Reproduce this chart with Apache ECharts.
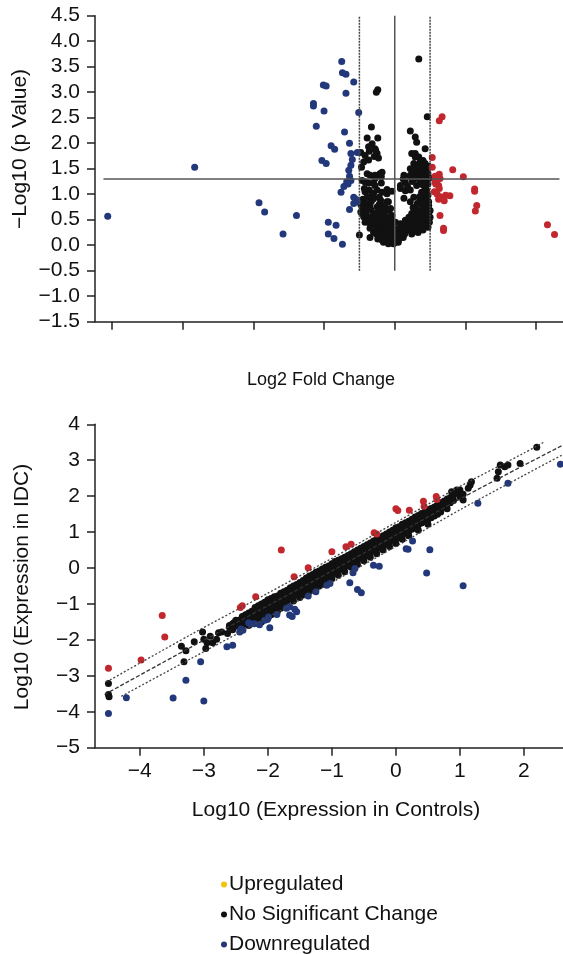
<!DOCTYPE html>
<html>
<head>
<meta charset="utf-8">
<script src="https://cdn.jsdelivr.net/npm/echarts@6/dist/echarts.min.js"></script>
<style>
html,body{margin:0;padding:0;background:#fff;}
#chart{width:563px;height:954px;}
</style>
</head>
<body>
<div id="chart"></div>
<script>
// ---------- Volcano plot (top) ----------
const volcanoYTicks = [-1.5,-1.0,-0.5,0.0,0.5,1.0,1.5,2.0,2.5,3.0,3.5,4.0,4.5];
const volcanoXTicks = [-4,-3,-2,-1,0,1,2];
const pThreshold = 1.3;
const fcThreshold = 0.5;

const volcanoUp = [
[0.67,2.52],[0.63,2.44],[0.53,1.72],[0.53,1.53],[0.82,1.48],[0.97,1.34],
[0.63,1.39],[0.57,1.35],[0.64,1.31],[0.57,1.24],[0.62,1.17],[0.63,1.11],
[1.13,1.10],[1.13,1.06],[0.60,1.00],[0.64,0.95],[0.72,0.98],[0.78,0.97],
[0.62,0.90],[0.70,0.87],[0.66,0.93],[0.56,1.05],[0.58,1.20],[0.60,1.28],
[1.16,0.78],[1.14,0.67],[0.64,0.58],[0.69,0.29],[0.69,0.33],[2.16,0.40],[2.26,0.21]
];
const volcanoDown = [
[-4.06,0.57],[-2.83,1.53],[-1.92,0.83],[-1.84,0.65],[-1.58,0.22],[-1.39,0.58],
[-1.15,2.78],[-1.15,2.73],[-1.11,2.33],[-1.01,3.14],[-0.97,3.12],[-1.00,2.63],
[-1.03,1.66],[-0.97,1.60],[-0.94,0.45],[-0.83,0.39],[-0.94,0.22],[-0.86,0.13],[-0.74,0.02],
[-0.90,1.95],[-0.85,1.88],[-0.75,3.60],[-0.74,3.38],[-0.69,3.35],[-0.69,2.98],[-0.58,3.20],[-0.51,2.60],
[-0.71,2.22],[-0.64,2.00],[-0.62,1.80],[-0.60,1.68],[-0.62,1.57],[-0.53,1.82],[-0.65,1.47],
[-0.64,1.35],[-0.62,1.27],[-0.68,1.24],[-0.72,1.15],[-0.76,1.04],[-0.66,1.20],
[-0.58,0.94],[-0.53,0.85],[-0.58,0.82],[-0.55,0.90],[-0.64,0.70]
];
const volcanoNS = [
[0.34,3.65],[-0.24,3.05],[-0.26,3.00],[0.46,2.52],[-0.33,2.32],[0.22,2.24],[0.29,2.12],[0.31,2.02],
[-0.39,2.10],[-0.24,2.10],[-0.32,1.99],[-0.28,1.89],[-0.37,1.93],[-0.36,1.84],[-0.25,1.80],[-0.29,1.74],[-0.27,1.86],
[-0.48,1.82],[-0.42,1.76],[-0.44,1.63],[-0.37,1.67],[-0.23,1.71],
[0.24,1.80],[0.29,1.73],[0.43,1.89],[0.29,1.80],[0.34,1.73],[0.40,1.66],[0.36,1.63],[0.43,1.60],[0.27,1.60],
[0.22,1.50],[0.31,1.50],[0.38,1.47],[0.45,1.44],[0.48,1.55],[0.42,1.52],
[-0.47,1.53],[-0.39,1.40],[-0.35,1.37],[-0.28,1.37],[-0.21,1.40],[-0.46,1.27],[-0.37,1.22],[-0.30,1.22],
[-0.19,1.22],[-0.18,1.43],[-0.19,1.34],[-0.28,1.31],[-0.42,1.24],[-0.28,1.17],
[-0.43,1.11],[-0.36,1.08],[-0.25,1.08],[-0.18,1.04],[-0.11,1.01],[-0.11,1.09],[-0.04,1.06],[0.08,1.11],
[0.13,1.37],[0.22,1.34],[0.27,1.40],[0.33,1.37],[0.22,1.37],[0.29,1.31],[0.36,1.27],[0.43,1.24],[0.15,1.24],
[0.08,1.17],[0.31,1.17],[0.22,1.08],[0.38,1.04],[0.45,1.08],[0.15,1.07],[0.43,1.10],
[0.27,0.94],[0.36,0.88],[0.41,0.94],[0.48,0.85],[0.22,0.85],[0.13,0.92],[0.45,0.95],[-0.09,0.85],
[-0.42,1.05],[-0.30,1.02],[-0.39,0.94],[-0.30,0.91],[-0.20,0.88],[-0.11,0.85],[-0.45,0.90],[-0.35,0.78],
[-0.25,0.75],[-0.16,0.72],[-0.42,0.68],[-0.48,0.80],[-0.46,0.74],
[-0.30,0.62],[-0.20,0.58],[-0.11,0.55],[-0.04,0.58],[-0.37,0.52],[-0.44,0.56],[-0.25,0.45],[-0.16,0.42],
[-0.06,0.39],[0.01,0.45],[-0.32,0.40],[-0.18,0.32],[-0.09,0.29],[-0.02,0.26],[-0.13,0.22],[-0.25,0.30],
[-0.06,0.16],[0.01,0.13],[0.05,0.19],
[-0.16,0.06],[-0.09,0.03],[-0.02,0.03],[0.05,0.06],[-0.12,0.12],[-0.20,0.18],[0.03,0.09],
[-0.50,0.20],[-0.35,0.15],
[0.08,0.42],[0.15,0.49],[0.13,0.36],[0.20,0.55],[0.27,0.62],[0.34,0.68],[0.41,0.75],[0.48,0.78],[0.50,0.68],
[0.43,0.62],[0.36,0.55],[0.29,0.49],[0.22,0.39],[0.17,0.29],[0.10,0.26],[0.05,0.32],[0.50,0.55],[0.45,0.45],
[0.38,0.39],[0.31,0.32],[0.47,0.35],[0.40,0.30],[0.24,0.22],[0.12,0.15],[0.48,0.62],[0.44,0.72],[0.38,0.80],
[0.33,0.58],[0.26,0.45],[0.20,0.32],
[-0.40,0.60],[-0.34,0.70],[-0.28,0.52],[-0.22,0.66],[-0.14,0.50],[-0.10,0.38],[-0.30,0.25],[-0.22,0.20],
[-0.20,0.40],[-0.26,0.36],[-0.15,0.62],[-0.08,0.68],[-0.05,0.48],[-0.42,0.45],[-0.35,0.33],
[-0.45,0.62],[-0.40,0.82],[-0.38,0.72],[-0.33,0.86],[-0.32,0.55],[-0.27,0.62],[-0.23,0.52],[-0.22,0.80],
[-0.18,0.48],[-0.14,0.40],[-0.12,0.32],[-0.17,0.26],[-0.08,0.22],[-0.04,0.10],[-0.14,0.16],[-0.24,0.12],
[-0.10,0.08],[0.00,0.05],[0.02,0.18],[0.06,0.12],[-0.18,0.10],[-0.28,0.42],[-0.36,0.44],[-0.48,0.65],
[-0.33,0.98],[-0.22,0.94],[-0.14,0.78],[-0.06,0.72],[-0.02,0.36],[-0.07,0.50],[-0.26,0.22],
[0.07,0.22],[0.09,0.33],[0.14,0.22],[0.18,0.40],[0.23,0.46],[0.25,0.30],[0.28,0.56],[0.30,0.40],[0.33,0.25],
[0.35,0.46],[0.37,0.64],[0.39,0.52],[0.42,0.40],[0.44,0.56],[0.46,0.66],[0.49,0.45],[0.47,0.75],[0.42,0.84],
[0.47,0.98],[0.40,1.00],[0.35,0.95],[0.32,0.82],[0.30,0.70],[0.26,0.74],[0.24,0.62],[0.40,1.18],[0.47,1.20],
[0.49,1.32],[0.36,1.40],[0.41,1.35],[0.47,1.40],[0.25,1.25],[0.18,1.16],[0.12,1.30],[0.33,1.55],[0.39,1.56],
[0.27,1.48]
];
const volcanoHLine = [[-4.12,pThreshold],[2.33,pThreshold]];
const volcanoVCenter = [[0,-0.5],[0,4.5]];
const volcanoVLeft = [[-fcThreshold,-0.5],[-fcThreshold,4.5]];
const volcanoVRight = [[fcThreshold,-0.5],[fcThreshold,4.5]];

// ---------- Expression scatter (bottom) ----------
const scatterYTicks = [-5,-4,-3,-2,-1,0,1,2,3,4];
const scatterXTicks = [-4,-3,-2,-1,0,1,2];

const scatterUp = [
[-4.49,-2.79],[-3.98,-2.56],[-3.65,-1.32],[-3.61,-1.92],[-1.79,0.50],[-1.00,0.45],[-1.37,0.01],
[-1.59,-0.24],[-2.19,-0.80],[-2.43,-1.10],[-2.40,-1.05],[-0.78,0.59],[-0.70,0.66],[-0.34,0.98],[-0.30,0.95],
[0.00,1.65],[0.03,1.60],[0.21,1.61],[0.43,1.86],[0.44,1.72],[0.63,1.99],[0.64,1.91]
];
const scatterDown = [
[-4.49,-4.05],[-4.21,-3.61],[-3.48,-3.62],[-3.00,-3.70],[-3.28,-3.12],[-3.05,-2.61],[-2.64,-2.19],[-2.55,-2.15],
[-2.42,-1.70],[-2.44,-1.78],[-2.39,-1.73],[-2.30,-1.52],[-2.21,-1.55],[-2.13,-1.58],[-2.26,-1.56],[-2.01,-1.43],
[-1.97,-1.66],[-2.05,-1.45],[-1.99,-1.36],[-1.86,-1.29],[-1.71,-1.12],[-1.66,-1.08],[-1.58,-1.15],[-1.66,-1.31],
[-1.55,-1.22],[-1.62,-1.35],[-1.37,-0.78],[-1.25,-0.66],[-1.08,-0.48],[-1.03,-0.43],[-0.72,-0.41],[-0.60,-0.60],
[-0.54,-0.69],[-0.64,-0.01],[-0.67,-0.13],[-0.35,0.08],[-0.26,0.05],[0.16,0.54],[0.19,0.52],[0.26,0.75],
[0.53,0.51],[0.48,-0.14],[1.05,-0.49],[1.28,1.80],[1.75,2.36],[2.57,2.89]
];
const scatterNS = [
[-4.49,-3.21],[-4.49,-3.52],[-4.48,-3.58],[-3.35,-2.18],[-3.31,-2.61],[-3.28,-2.30],[-3.02,-1.78],[-3.00,-1.98],
[-2.95,-2.08],[-2.97,-2.24],[-2.86,-2.08],[-2.80,-1.98],[-2.77,-1.80],[-2.72,-1.78],[-2.63,-1.82],[-2.58,-1.61],
[-2.53,-1.52],[-3.15,-2.05],[-2.90,-1.90],
[-2.60,-1.65],[-2.60,-1.60],[-2.55,-1.55],[-2.55,-1.72],[-2.50,-1.50],[-2.50,-1.62],[-2.50,-1.45],[-2.45,-1.45],
[-2.45,-1.58],[-2.40,-1.35],[-2.40,-1.50],[-2.40,-1.62],[-2.35,-1.30],[-2.35,-1.48],[-2.35,-1.55],[-2.30,-1.25],
[-2.30,-1.42],[-2.30,-1.60],[-2.30,-1.50],[-2.25,-1.35],[-2.25,-1.20],[-2.25,-1.52],[-2.20,-1.10],[-2.20,-1.30],
[-2.20,-1.45],[-2.15,-1.05],[-2.15,-1.25],[-2.15,-1.38],[-2.10,-1.00],[-2.10,-1.18],[-2.10,-1.35],[-2.10,-1.50],
[-2.05,-0.95],[-2.05,-1.12],[-2.05,-1.28],[-2.00,-0.88],[-2.00,-1.05],[-2.00,-1.22],[-2.00,-1.40],[-1.95,-0.85],
[-1.95,-1.00],[-1.95,-1.15],[-1.95,-1.30],[-1.90,-0.80],[-1.90,-0.95],[-1.90,-1.10],[-1.90,-1.25],[-1.85,-0.78],
[-1.85,-0.90],[-1.85,-1.05],[-1.85,-1.20],[-1.80,-0.70],[-1.80,-0.85],[-1.80,-1.00],[-1.80,-1.12],[-1.75,-0.66],
[-1.75,-0.80],[-1.75,-0.95],[-1.75,-1.05],[-1.70,-0.62],[-1.70,-0.75],[-1.70,-0.90],[-1.70,-1.02],[-1.65,-0.55],
[-1.65,-0.72],[-1.65,-0.85],[-1.60,-0.50],[-1.60,-0.65],[-1.60,-0.80],[-1.60,-0.92],[-1.55,-0.46],[-1.55,-0.60],
[-1.55,-0.75],[-1.50,-0.40],[-1.50,-0.55],[-1.50,-0.70],[-1.50,-0.82],[-1.45,-0.35],[-1.45,-0.50],[-1.45,-0.62],
[-1.45,-0.75],[-1.40,-0.28],[-1.40,-0.45],[-1.40,-0.58],[-1.40,-0.68],[-1.35,-0.22],[-1.35,-0.40],[-1.35,-0.52],
[-1.35,-0.65],[-1.30,-0.18],[-1.30,-0.35],[-1.30,-0.48],[-1.30,-0.60],[-1.25,-0.12],[-1.25,-0.30],[-1.25,-0.42],
[-1.25,-0.55],[-1.20,-0.08],[-1.20,-0.25],[-1.20,-0.38],[-1.20,-0.50],[-1.15,-0.03],[-1.15,-0.20],[-1.15,-0.32],
[-1.15,-0.45],[-1.10,0.02],[-1.10,-0.15],[-1.10,-0.28],[-1.10,-0.40],[-1.05,0.06],[-1.05,-0.10],[-1.05,-0.22],
[-1.05,-0.35],[-1.00,0.12],[-1.00,-0.05],[-1.00,-0.18],[-1.00,-0.30],[-0.95,0.18],[-0.95,0.00],[-0.95,-0.12],
[-0.90,0.22],[-0.90,0.05],[-0.90,-0.08],[-0.90,-0.20],[-0.85,0.26],[-0.85,0.10],[-0.85,-0.02],[-0.80,0.30],
[-0.80,0.15],[-0.80,0.02],[-0.80,-0.10],[-0.75,0.35],[-0.75,0.20],[-0.75,0.08],[-0.70,0.40],[-0.70,0.25],
[-0.70,0.12],[-0.70,0.02],[-0.65,0.45],[-0.65,0.30],[-0.65,0.18],[-0.60,0.50],[-0.60,0.35],[-0.60,0.22],
[-0.60,0.10],[-0.55,0.55],[-0.55,0.40],[-0.55,0.28],[-0.50,0.60],[-0.50,0.45],[-0.50,0.32],[-0.50,0.20],
[-0.45,0.65],[-0.45,0.50],[-0.45,0.38],[-0.40,0.70],[-0.40,0.55],[-0.40,0.42],[-0.40,0.30],[-0.35,0.75],
[-0.35,0.60],[-0.35,0.48],[-0.30,0.80],[-0.30,0.65],[-0.30,0.52],[-0.30,0.40],[-0.25,0.85],[-0.25,0.70],
[-0.25,0.58],[-0.20,0.90],[-0.20,0.75],[-0.20,0.62],[-0.20,0.50],[-0.15,0.95],[-0.15,0.80],[-0.15,0.68],
[-0.10,1.00],[-0.10,0.85],[-0.10,0.72],[-0.10,0.60],[-0.05,1.05],[-0.05,0.90],[-0.05,0.78],[0.00,1.12],
[0.00,0.95],[0.00,0.82],[0.00,0.68],[0.05,1.15],[0.05,0.98],[0.05,0.85],[0.10,1.22],[0.10,1.05],[0.10,0.92],
[0.10,0.80],[0.15,1.26],[0.15,1.10],[0.15,0.98],[0.20,1.30],[0.20,1.15],[0.20,1.02],[0.20,0.90],[0.25,1.36],
[0.25,1.20],[0.25,1.08],[0.30,1.42],[0.30,1.25],[0.30,1.12],[0.35,1.46],[0.35,1.32],[0.35,1.20],[0.35,1.05],
[0.40,1.52],[0.40,1.38],[0.40,1.25],[0.45,1.56],[0.45,1.42],[0.45,1.30],[0.50,1.62],[0.50,1.48],[0.50,1.35],
[0.50,1.22],[0.55,1.66],[0.55,1.52],[0.55,1.40],[0.60,1.70],[0.60,1.58],[0.60,1.45],[0.65,1.76],[0.65,1.62],
[0.65,1.50],[0.70,1.82],[0.70,1.68],[0.70,1.56],[0.75,1.86],[0.75,1.72],[0.80,1.92],[0.80,1.78],[0.80,1.65],
[0.85,1.96],[0.85,1.82],[0.90,2.03],[0.90,1.88],[0.87,2.12],[0.95,2.17],[0.95,2.08],[1.00,2.17],[1.00,1.98],
[1.05,1.89],[1.05,2.05],[1.13,2.22],[1.16,2.31],[1.18,2.40],
[1.58,2.50],[1.60,2.68],[1.63,2.87],[1.70,2.82],[1.75,2.87],[1.94,2.91],[2.20,3.36]
];
const midLine = [[-4.55,-3.52],[-3.2,-2.2],[-2.0,-1.05],[-1.0,-0.08],[0.0,0.92],[1.0,1.92],[2.0,2.86],[2.61,3.42]];
const upperLine = [[-4.52,-3.17],[-3.2,-1.85],[-2.0,-0.70],[-1.0,0.27],[0.0,1.27],[1.0,2.27],[2.0,3.20],[2.33,3.52]];
const lowerLine = [[-4.29,-3.57],[-3.2,-2.52],[-2.0,-1.37],[-1.0,-0.40],[0.0,0.60],[1.0,1.62],[2.0,2.58],[2.61,3.16]];

// ---------- styling ----------
const FONT = '"Liberation Sans", Arial, Helvetica, sans-serif';
const FS_TICK = 21, FS_YNAME = 21, FS_LEG = 21;
const C_UP = '#c1272d', C_NS = '#111111', C_DOWN = '#22387a', C_LEG_UP = '#f4c20d';
const AX = '#222222';
const minus = s => String(s).replace('-', '\u2212');

const chart = echarts.init(document.getElementById('chart'), null, {renderer:'canvas'});

function axisCommon(){
  return {
    axisLine:{show:true, onZero:false, lineStyle:{color:AX, width:1.5}},
    axisTick:{show:true, inside:false, length:8, lineStyle:{color:AX, width:1.5}},
    splitLine:{show:false},
    axisLabel:{color:'#111', fontSize:FS_TICK, fontFamily:FONT},
  };
}
function refLine(data, color, type, width, name){
  return {type:'line', name:name, xAxisIndex:0, yAxisIndex:0, data:data, showSymbol:false, symbol:'none',
    silent:true, z:5, smooth:false, lineStyle:{color:color, width:width, type:type}, animation:false};
}
function smoothLine(data, color, type, name){
  return {type:'line', name:name, xAxisIndex:1, yAxisIndex:1, data:data, showSymbol:false, symbol:'none',
    silent:true, z:5, smooth:0.3, lineStyle:{color:color, width:1.3, type:type}, animation:false};
}
function scat(name, data, color, xi, yi, size){
  return {type:'scatter', name:name, xAxisIndex:xi, yAxisIndex:yi, data:data, symbol:'circle', symbolSize:size,
    itemStyle:{color:color, opacity:1}, z:3, animation:false};
}

const topX = Object.assign(axisCommon(), {type:'value', gridIndex:0, min:-4.24, max:2.38});
topX.axisTick = Object.assign({}, topX.axisTick, {customValues: volcanoXTicks});
topX.axisLabel = {show:false};
const topY = Object.assign(axisCommon(), {type:'value', gridIndex:0, min:volcanoYTicks[0], max:volcanoYTicks[volcanoYTicks.length-1], interval:0.5});
topY.axisLabel = Object.assign({}, topY.axisLabel, {margin:15, formatter: v => minus(v.toFixed(1))});

const botX = Object.assign(axisCommon(), {type:'value', gridIndex:1, min:-4.70, max:2.61});
botX.axisTick = Object.assign({}, botX.axisTick, {customValues: scatterXTicks});
botX.axisLabel = Object.assign({}, botX.axisLabel, {margin:13, customValues: scatterXTicks, formatter: v => minus(v)});
const botY = Object.assign(axisCommon(), {type:'value', gridIndex:1, min:scatterYTicks[0], max:scatterYTicks[scatterYTicks.length-1], interval:1});
botY.axisLabel = Object.assign({}, botY.axisLabel, {margin:15, formatter: v => minus(v)});

const option = {
  backgroundColor:'#fff',
  animation:false,
  textStyle:{fontFamily:FONT},
  grid:[
    {left:95, top:15.7, width:468, height:306, containLabel:false},
    {left:95, top:424.3, width:468, height:323.4, containLabel:false}
  ],
  xAxis:[topX, botX],
  yAxis:[topY, botY],
  legend:{
    orient:'vertical', left:221, top:874, width:300, height:120, itemWidth:6, itemHeight:6, itemGap:9, icon:'circle',
    selectedMode:false, padding:0,
    textStyle:{fontSize:FS_LEG, color:'#111', fontFamily:FONT, padding:[0,0,0,-3]},
    data:[
      {name:'Upregulated', itemStyle:{color:C_LEG_UP}},
      {name:'No Significant Change', itemStyle:{color:C_NS}},
      {name:'Downregulated', itemStyle:{color:C_DOWN}}
    ]
  },
  graphic:[
    {type:'text', x:20, y:149, rotation:Math.PI/2, style:{text:'\u2212Log10 (p Value)', fontSize:FS_YNAME, fontFamily:FONT, fill:'#111', align:'center', verticalAlign:'middle'}},
    {type:'text', x:321, y:380, style:{text:'Log2 Fold Change', fontSize:18, fontFamily:FONT, fill:'#111', align:'center', verticalAlign:'middle'}},
    {type:'text', x:22, y:587, rotation:Math.PI/2, style:{text:'Log10 (Expression in IDC)', fontSize:FS_YNAME, fontFamily:FONT, fill:'#111', align:'center', verticalAlign:'middle'}},
    {type:'text', x:336, y:810, style:{text:'Log10 (Expression in Controls)', fontSize:21, fontFamily:FONT, fill:'#111', align:'center', verticalAlign:'middle'}}
  ],
  series:[
    scat('No Significant Change', volcanoNS, C_NS, 0, 0, 7),
    scat('Upregulated', volcanoUp, C_UP, 0, 0, 7),
    scat('Downregulated', volcanoDown, C_DOWN, 0, 0, 7),
    refLine(volcanoHLine, '#555', 'solid', 1.5, 'p threshold'),
    refLine(volcanoVCenter, '#555', 'solid', 1.5, 'zero'),
    refLine(volcanoVLeft, '#444', [2,1], 1.5, 'fc low'),
    refLine(volcanoVRight, '#444', [2,1], 1.5, 'fc high'),
    scat('No Significant Change', scatterNS, C_NS, 1, 1, 7),
    scat('Upregulated', scatterUp, C_UP, 1, 1, 7),
    scat('Downregulated', scatterDown, C_DOWN, 1, 1, 7),
    smoothLine(upperLine, '#444', [2,2], 'upper bound'),
    smoothLine(midLine, '#333', [4,2], 'fit'),
    smoothLine(lowerLine, '#444', [2,2], 'lower bound')
  ]
};
chart.setOption(option);
</script>
</body>
</html>
